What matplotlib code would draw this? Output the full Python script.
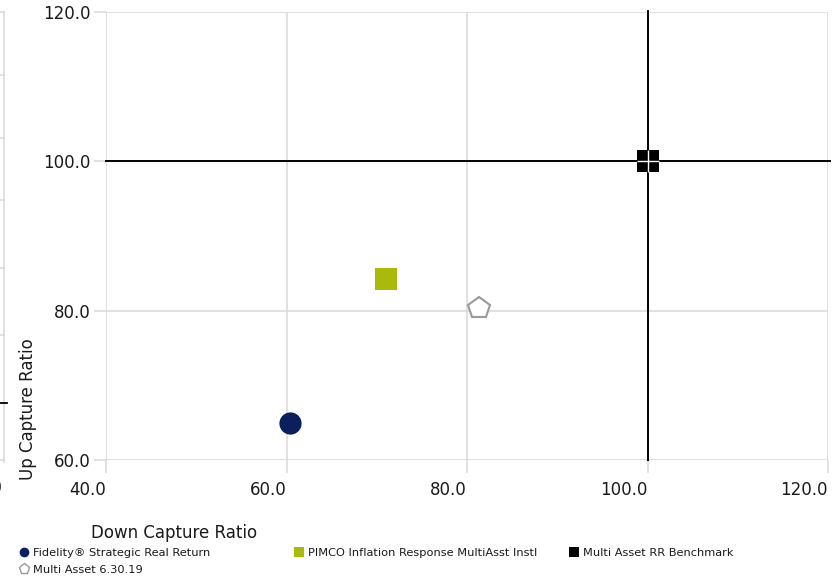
import matplotlib
matplotlib.use("Agg")
import matplotlib.pyplot as plt
from matplotlib.lines import Line2D

plt.rcParams["font.family"] = ["DejaVu Sans"]

# ---- data -------------------------------------------------------------
funds = [
    "Fidelity\u00ae Strategic Real Return",
    "PIMCO Inflation Response MultiAsst Instl",
    "Multi Asset RR Benchmark",
    "Multi Asset 6.30.19",
]
down_capture = [60.4, 71.0, 100.0, 81.3]
up_capture = [64.9, 84.2, 100.0, 80.3]

x_ticks = [40.0, 60.0, 80.0, 100.0, 120.0]
y_ticks = [60.0, 80.0, 100.0, 120.0]
x_tick_labels = [f"{v:.1f}" for v in x_ticks]
y_tick_labels = [f"{v:.1f}" for v in y_ticks]

benchmark_x = 100.0
benchmark_y = 100.0

# ---- styles -----------------------------------------------------------
styles = [
    dict(marker="o", mfc="#0b1f5c", mec="#0b1f5c", ms=16, mew=0),
    dict(marker="s", mfc="#a9ba0b", mec="#a9ba0b", ms=15.6, mew=0),
    dict(marker="s", mfc="#000000", mec="#000000", ms=16, mew=0),
    dict(marker="p", mfc="white", mec="#9a9a9a", ms=16, mew=1.5),
]

W, H = 840, 580
fig = plt.figure(figsize=(W / 100, H / 100), dpi=100)
fig.patch.set_facecolor("white")


def fx(px):
    return px / W


def fy(py):
    return 1 - py / H


grid_c = "#d9d9d9"
text_c = "#1a1a1a"

ax = fig.add_axes([fx(106), fy(460), fx(828) - fx(106), fy(12) - fy(460)])
ax.set_xlim(40, 120)
ax.set_ylim(60, 120)
for s in ax.spines.values():
    s.set_visible(False)
ax.set_xticks(x_ticks)
ax.set_xticklabels(x_tick_labels, ha="right")
ax.set_yticks(y_ticks)
ax.set_yticklabels(y_tick_labels)
ax.tick_params(axis="both", colors=grid_c, labelcolor=text_c, labelsize=12,
               length=9, width=1.1)
ax.tick_params(axis="y", pad=2)
ax.tick_params(axis="x", pad=6)
ax.grid(True, color=grid_c, linewidth=1.1, zorder=0)
ax.set_axisbelow(True)

# benchmark crosshair
ax.axvline(benchmark_x, color="black", linewidth=1.4, zorder=2, clip_on=False,
           ymin=0, ymax=1.003)
ax.axhline(benchmark_y, color="black", linewidth=1.4, zorder=2, clip_on=False,
           xmin=0, xmax=1.003)

# points
for i, (xv, yv) in enumerate(zip(down_capture, up_capture)):
    st = styles[i]
    ax.plot([xv], [yv], linestyle="none", marker=st["marker"], ms=st["ms"],
            mfc=st["mfc"], mec=st["mec"], mew=st["mew"], zorder=3, clip_on=False)
# light cross through the benchmark marker
ax.plot([down_capture[2]], [up_capture[2]], linestyle="none", marker="+",
        ms=16, mec="white", mew=1.0, zorder=4)

# axis titles
fig.text(fx(91), fy(533), "Down Capture Ratio", fontsize=12, color=text_c,
         ha="left", va="center")
fig.text(fx(28), fy(409), "Up Capture Ratio", fontsize=12, color=text_c,
         rotation=90, ha="center", va="center")

# left-edge remnant axis strip
fig.add_artist(Line2D([fx(3.5), fx(3.5)], [fy(12), fy(462)], color=grid_c,
                      linewidth=1.1))
for py in [12, 75, 138, 200, 268, 335, 460]:
    fig.add_artist(Line2D([fx(0), fx(4)], [fy(py), fy(py)], color=grid_c,
                          linewidth=1.1))
fig.add_artist(Line2D([fx(0), fx(7)], [fy(403), fy(403)], color="black",
                      linewidth=1.3))
fig.text(fx(3), fy(488), "20.0", fontsize=12, color=text_c, ha="right",
         va="center")


# legend
def handle(i, ms):
    st = styles[i]
    return Line2D([], [], linestyle="none", marker=st["marker"], ms=ms,
                  mfc=st["mfc"], mec=st["mec"],
                  mew=1.0 if st["marker"] == "p" else 0)


leg_kw = dict(frameon=False, fontsize=8.2, loc="upper left", borderpad=0,
              borderaxespad=0, handlelength=1.0, handletextpad=0.35,
              labelspacing=0.6, labelcolor=text_c)
sizes = [7, 7, 7, 8]
col_x = [18, 293, 568]
columns = [[0, 3], [1], [2]]
for cx, idx in zip(col_x, columns):
    fig.legend([handle(i, sizes[i]) for i in idx], [funds[i] for i in idx],
               bbox_to_anchor=(fx(cx), fy(548)), **leg_kw)

fig.savefig("out.png", dpi=100, facecolor="white")
